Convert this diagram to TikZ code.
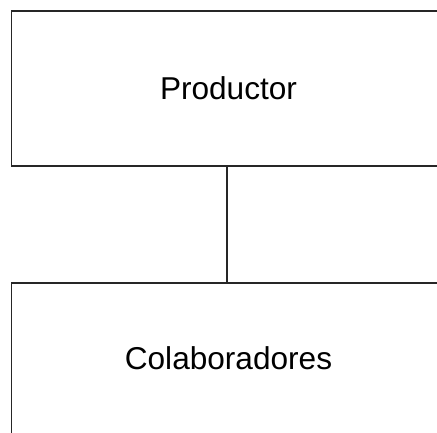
\documentclass[tikz,border=0pt]{standalone}
\usepackage{fontspec}
\setmainfont{Liberation Sans}
\begin{document}
\begin{tikzpicture}[x=1pt,y=-1pt,
  boxstyle/.style={draw=black!85,line width=1.1pt,rectangle,inner sep=0pt,
    minimum width=434pt,font=\fontsize{31.6pt}{36pt}\selectfont}]
\useasboundingbox (0,0) rectangle (437,433);
\node[boxstyle,minimum height=155pt] (prod) at (228.5,88.5) {Productor};
\node[boxstyle,minimum height=151pt] (colab) at (228.5,358.5) {Colaboradores};
\coordinate (top) at (227,166);
\coordinate (bot) at (227,283);
\draw[black!85,line width=1.1pt] (prod.south -| top) -- (colab.north -| bot);
\end{tikzpicture}
\end{document}
